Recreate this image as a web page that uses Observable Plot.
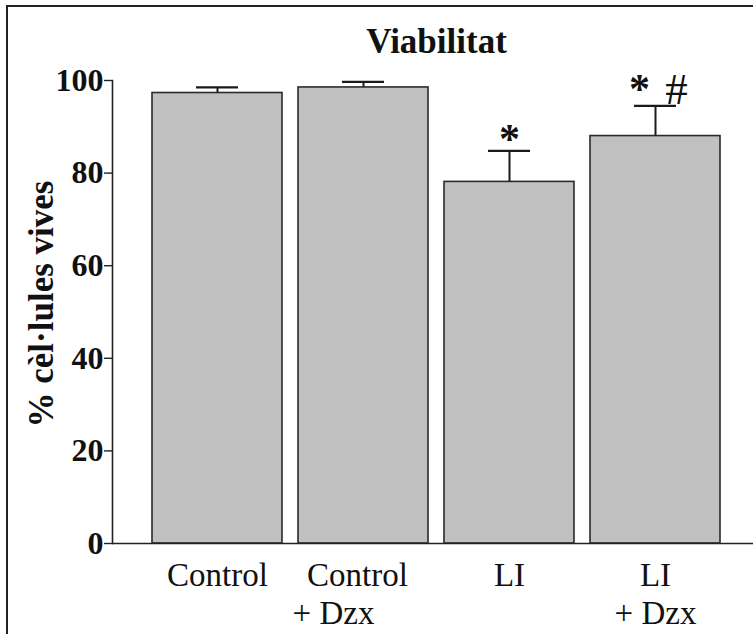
<!DOCTYPE html>
<html>
<head>
<meta charset="utf-8">
<script src="https://cdn.jsdelivr.net/npm/d3@7"></script>
<script src="https://cdn.jsdelivr.net/npm/@observablehq/plot@0.6"></script>
<style>
  html, body { margin: 0; padding: 0; background: white; }
  #wrap { position: relative; width: 753px; height: 634px; overflow: hidden; background: white; font-family: "Liberation Serif", "Times New Roman", serif; }
  #title { position: absolute; left: 116px; width: 641px; top: 22px; text-align: center; font-size: 35px; font-weight: bold; color: #111; }
  #chart { position: absolute; left: 0; top: 62px; }
  #border { position: absolute; left: 6px; top: 5px; width: 800px; height: 700px; border-top: 2px solid #222; border-left: 2px solid #222; pointer-events: none; }
</style>
</head>
<body>
<div id="wrap">
  <div id="title">Viabilitat</div>
  <div id="chart"></div>
  <div id="border"></div>
</div>
<script>
const categories = ["Control", "Control + Dzx", "LI", "LI + Dzx"];
const labelLine1 = ["Control", "Control", "LI", "LI"];
const labelLine2 = ["", "+ Dzx", "", "+ Dzx"];
const means = [97.3, 98.5, 78.1, 88.0];
const errors = [1.2, 1.2, 6.7, 6.5];
const starMarks = ["", "", "*", "*"];
const hashMarks = ["", "", "", "#"];
const yTicks = [0, 20, 40, 60, 80, 100];
const yLabel = "% cèl·lules vives";

const rows = categories.map((c, i) => ({
  cat: c, mean: means[i], err: errors[i], top: means[i] + errors[i],
  l1: labelLine1[i], l2: labelLine2[i], star: starMarks[i], hash: hashMarks[i], i
}));

const font = "Liberation Serif, Times New Roman, serif";

const chart = Plot.plot({
  width: 753,
  height: 572,
  marginLeft: 112,
  marginRight: 0,
  marginTop: 18,
  marginBottom: 91,
  style: { fontFamily: font, background: "transparent", overflow: "visible" },
  x: { domain: categories, paddingInner: 0.107, paddingOuter: 0.238, align: 0.544, axis: null },
  y: { domain: [0, 100], axis: null },
  marks: [
    Plot.barY(rows, { x: "cat", y: "mean", fill: "#c0c0c0", stroke: "#2a2a2a", strokeWidth: 1.6 }),
    Plot.ruleX(rows, { x: "cat", y1: "mean", y2: "top", stroke: "#1a1a1a", strokeWidth: 2 }),
    Plot.tickY(rows, { x: "cat", y: "top", stroke: "#1a1a1a", strokeWidth: 2.2, insetLeft: 44, insetRight: 44 }),
    Plot.ruleY([0], { stroke: "#222", strokeWidth: 1.6 }),
    Plot.frame({ anchor: "left", stroke: "#222", strokeWidth: 1.6 }),
    Plot.axisY({ ticks: yTicks, tickSize: 8, tickPadding: 1, fontSize: 32, fontWeight: "bold", label: null, stroke: "#222", fill: "#111", strokeWidth: 1.4 }),
    Plot.text(rows.filter(d => d.i !== 1), { x: "cat", text: "l1", frameAnchor: "bottom", lineAnchor: "top", dy: 19, fontSize: 33, fill: "#111" }),
    Plot.text(rows.filter(d => d.i === 1), { x: "cat", text: "l1", frameAnchor: "bottom", lineAnchor: "top", dy: 19, dx: -6, fontSize: 33, fill: "#111" }),
    Plot.text(rows.filter(d => d.i === 3), { x: "cat", text: "l2", frameAnchor: "bottom", lineAnchor: "top", dy: 57, fontSize: 33, fill: "#111" }),
    Plot.text(rows.filter(d => d.i === 1), { x: "cat", text: "l2", frameAnchor: "bottom", lineAnchor: "top", dy: 57, dx: -30, fontSize: 33, fill: "#111" }),
    Plot.text(rows.filter(d => d.i === 2), { x: "cat", y: "top", text: "star", lineAnchor: "bottom", dy: 2, fontSize: 42, fontWeight: "bold", fill: "#111" }),
    Plot.text(rows.filter(d => d.i === 3), { x: "cat", y: "top", text: "star", lineAnchor: "bottom", dy: -3, dx: -16, fontSize: 42, fontWeight: "bold", fill: "#111" }),
    Plot.text(rows.filter(d => d.i === 3), { x: "cat", y: "top", text: "hash", lineAnchor: "bottom", dy: -2, dx: 21, fontSize: 45, fill: "#111" }),
    Plot.text([yLabel], { text: d => d, frameAnchor: "left", rotate: -90, dx: -71, dy: -8, lineAnchor: "middle", textAnchor: "middle", fontSize: 35, fontWeight: "bold", fill: "#111" })
  ]
});
document.getElementById("chart").appendChild(chart);
</script>
</body>
</html>
